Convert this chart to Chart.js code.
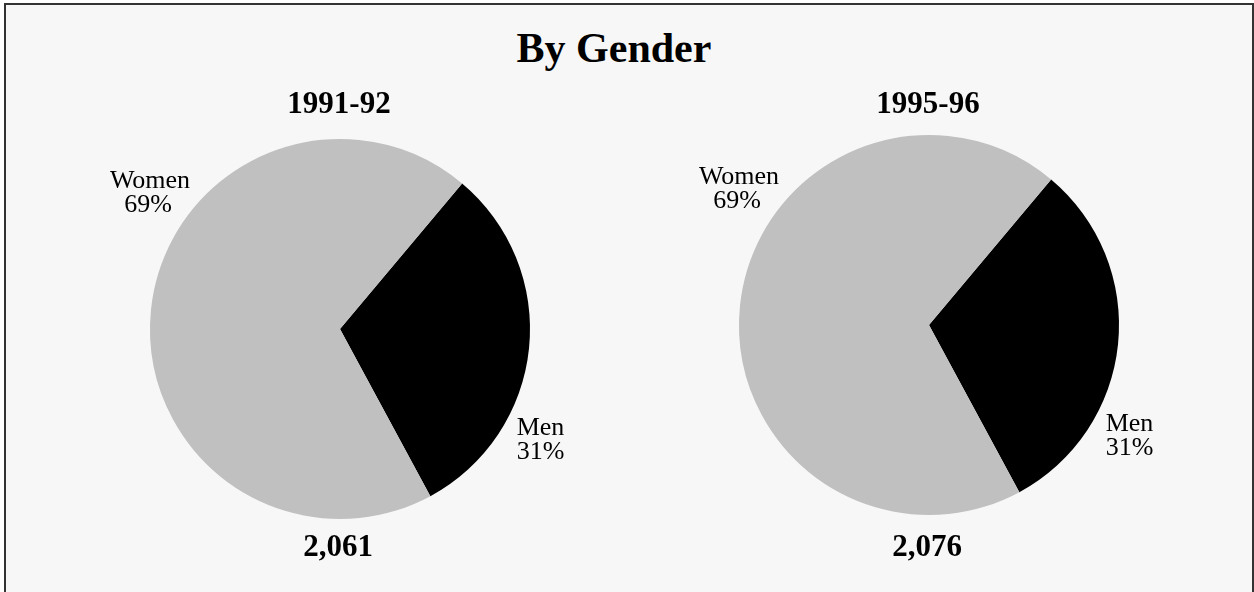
<!DOCTYPE html>
<html>
<head>
<meta charset="utf-8">
<script src="https://cdn.jsdelivr.net/npm/chart.js@4"></script>
<style>
  body { margin: 0; background: #ffffff; width: 1254px; height: 592px; overflow: hidden; position: relative; }
  #frame {
    position: absolute; left: 4px; top: 3px; width: 1250px; height: 620px;
    box-sizing: border-box; border: 2px solid #333333; background: #f7f7f7;
  }
  #heading {
    position: absolute; left: 0; top: 27px; width: 1228px; text-align: center;
    font: bold 42px/42px "Liberation Serif", "Times New Roman", serif; color: #000;
  }
  canvas { position: absolute; top: 0; }
  #pieLeft { left: 50px; }
  #pieRight { left: 639px; }
</style>
</head>
<body>
<div id="frame"></div>
<div id="heading">By Gender</div>
<canvas id="pieLeft" width="580" height="592"></canvas>
<canvas id="pieRight" width="580" height="592"></canvas>
<script>
const genders = ['Men', 'Women'];
const years = ['1991-92', '1995-96'];
const totals = ['2,061', '2,076'];
const shares9192 = [31, 69];
const shares9596 = [31, 69];
const sliceColors = ['#000000', '#c0c0c0'];

const serif = '"Liberation Serif", "Times New Roman", serif';

// year above the pie, headcount below, slice labels beside it
const pieText = {
  id: 'pieText',
  afterDraw(chart, args, opts) {
    const ctx = chart.ctx;
    const arc = chart.getDatasetMeta(0).data[0];
    const cx = arc.x, cy = arc.y, r = arc.outerRadius;
    const values = chart.data.datasets[0].data;
    const names = chart.data.labels;
    ctx.save();
    ctx.fillStyle = '#000';
    ctx.textBaseline = 'alphabetic';
    ctx.textAlign = 'center';
    ctx.font = 'bold 31px ' + serif;
    ctx.fillText(opts.year, cx - 1, 113);
    ctx.fillText(opts.total, cx - 2, 556);

    ctx.font = '26px ' + serif;
    ctx.fillText(names[1], cx - r * 1.0, cy - r * 0.74);
    ctx.fillText(values[1] + '%', cx - r * 1.01, cy - r * 0.615);
    ctx.textAlign = 'left';
    ctx.fillText(names[0], cx + r * 0.93, cy + r * 0.56);
    ctx.fillText(values[0] + '%', cx + r * 0.93, cy + r * 0.685);
    ctx.restore();
  }
};

const makePie = (id, values, year, total, pad) => {
  const ctx = document.getElementById(id).getContext('2d');
  return new Chart(ctx, {
    type: 'pie',
    data: {
      labels: genders,
      datasets: [{
        data: values,
        backgroundColor: sliceColors,
        borderWidth: 0
      }]
    },
    options: {
      responsive: false,
      animation: false,
      rotation: 40,
      layout: { padding: pad },
      plugins: {
        legend: { display: false },
        tooltip: { enabled: false },
        pieText: { year: year, total: total }
      }
    },
    plugins: [pieText]
  });
};

makePie('pieLeft', shares9192, years[0], totals[0], { left: 100, right: 100, top: 139, bottom: 73 });
makePie('pieRight', shares9596, years[1], totals[1], { left: 100, right: 100, top: 135, bottom: 77 });
</script>
</body>
</html>
